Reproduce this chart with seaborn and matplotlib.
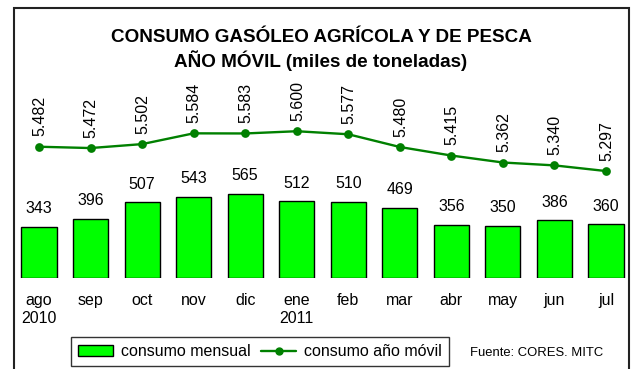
import numpy as np
import pandas as pd
import matplotlib
matplotlib.use("Agg")
import matplotlib.pyplot as plt
from matplotlib.patches import Rectangle, Patch
from matplotlib.lines import Line2D
import seaborn as sns

# Monthly consumption of agricultural and fishing diesel (thousand tonnes)
meses = ["ago\n2010", "sep", "oct", "nov", "dic", "ene\n2011",
         "feb", "mar", "abr", "may", "jun", "jul"]
consumo_mensual = [343, 396, 507, 543, 565, 512, 510, 469, 356, 350, 386, 360]
consumo_anio_movil = [5482, 5472, 5502, 5584, 5583, 5600, 5577, 5480,
                      5415, 5362, 5340, 5297]

VERDE_BARRA = "#00FF00"
VERDE_LINEA = "#008000"

df = pd.DataFrame({"mes": meses, "mensual": consumo_mensual,
                   "movil": consumo_anio_movil})


def miles(v):
    return f"{v:,}".replace(",", ".")


sns.set_theme(style="white")
plt.rcParams["font.family"] = ["Liberation Sans", "DejaVu Sans"]
plt.rcParams["text.color"] = "black"
plt.rcParams["xtick.color"] = "black"
plt.rcParams["axes.labelcolor"] = "black"

FS = 11.5

W, H = 633, 369
fig = plt.figure(figsize=(W / 100, H / 100), dpi=100)
fig.patch.set_facecolor("white")

left_px, right_px, top_px, bottom_px = 14, 629, 70, 278
ax = fig.add_axes([left_px / W, 1 - bottom_px / H,
                   (right_px - left_px) / W, (bottom_px - top_px) / H])
ax.set_facecolor("none")

sns.barplot(data=df, x="mes", y="mensual", order=meses, color=VERDE_BARRA,
            saturation=1, edgecolor="black", linewidth=1.0, width=0.68,
            ax=ax, zorder=2)
ax.bar_label(ax.containers[0], labels=[str(v) for v in consumo_mensual],
             padding=7.5, fontsize=FS, color="black")

ax2 = ax.twinx()
sns.pointplot(data=df, x="mes", y="movil", order=meses, color=VERDE_LINEA,
              markers="o", markersize=5, linewidth=1.7, errorbar=None, ax=ax2)
for i, v in enumerate(consumo_anio_movil):
    ax2.annotate(miles(v), (i, v), xytext=(0.5, 7.5), textcoords="offset points",
                 rotation=90, ha="center", va="bottom", fontsize=FS,
                 color="black")

# Axis ranges
x0 = (left_px - 39) / 51.545
x1 = (right_px - 39) / 51.545
ax.set_xlim(x0, x1)
ax2.set_xlim(x0, x1)
ax.set_ylim(0, 1391)
ax2.set_ylim(4483, 6066)

for a in (ax, ax2):
    for s in a.spines.values():
        s.set_visible(False)
    a.set_yticks([])
    a.set_ylabel("")
    a.set_xlabel("")
ax.set_xticks(range(len(meses)))
ax.set_xticklabels(meses, fontsize=FS, linespacing=1.25)
ax.tick_params(axis="x", length=0, pad=10.5, colors="black")
ax2.tick_params(axis="x", length=0, labelbottom=False)

# Title
fig.text(321.5 / W, 1 - 42 / H, "CONSUMO GASÓLEO AGRÍCOLA Y DE PESCA",
         ha="center", va="baseline", fontsize=13.6, fontweight="bold",
         color="black")
fig.text(321 / W, 1 - 66.7 / H, "AÑO MÓVIL (miles de toneladas)",
         ha="center", va="baseline", fontsize=13.6, fontweight="bold",
         color="black")

# Legend
handles = [Patch(facecolor=VERDE_BARRA, edgecolor="black", linewidth=1.0),
           Line2D([], [], color=VERDE_LINEA, lw=1.7, marker="o", markersize=5)]
leg = fig.legend(handles, ["consumo mensual", "consumo año móvil"],
                 loc="upper left", bbox_to_anchor=(71 / W, 1 - 337 / H),
                 ncol=2, fontsize=FS, frameon=True, fancybox=False,
                 edgecolor="black", handlelength=2.2, handletextpad=0.45,
                 columnspacing=0.7, borderpad=0.45, borderaxespad=0)
leg.get_frame().set_linewidth(1.0)

fig.text(470 / W, 1 - 353 / H, "Fuente: CORES. MITC", ha="left",
         va="center", fontsize=9.4, color="black")

# Chart border
fig.patches.append(Rectangle((left_px / W, -0.1), (right_px - left_px) / W,
                             1.1 - 8 / H, transform=fig.transFigure,
                             fill=False, edgecolor="#222222", linewidth=1.5))

fig.savefig("out.png", dpi=100)
